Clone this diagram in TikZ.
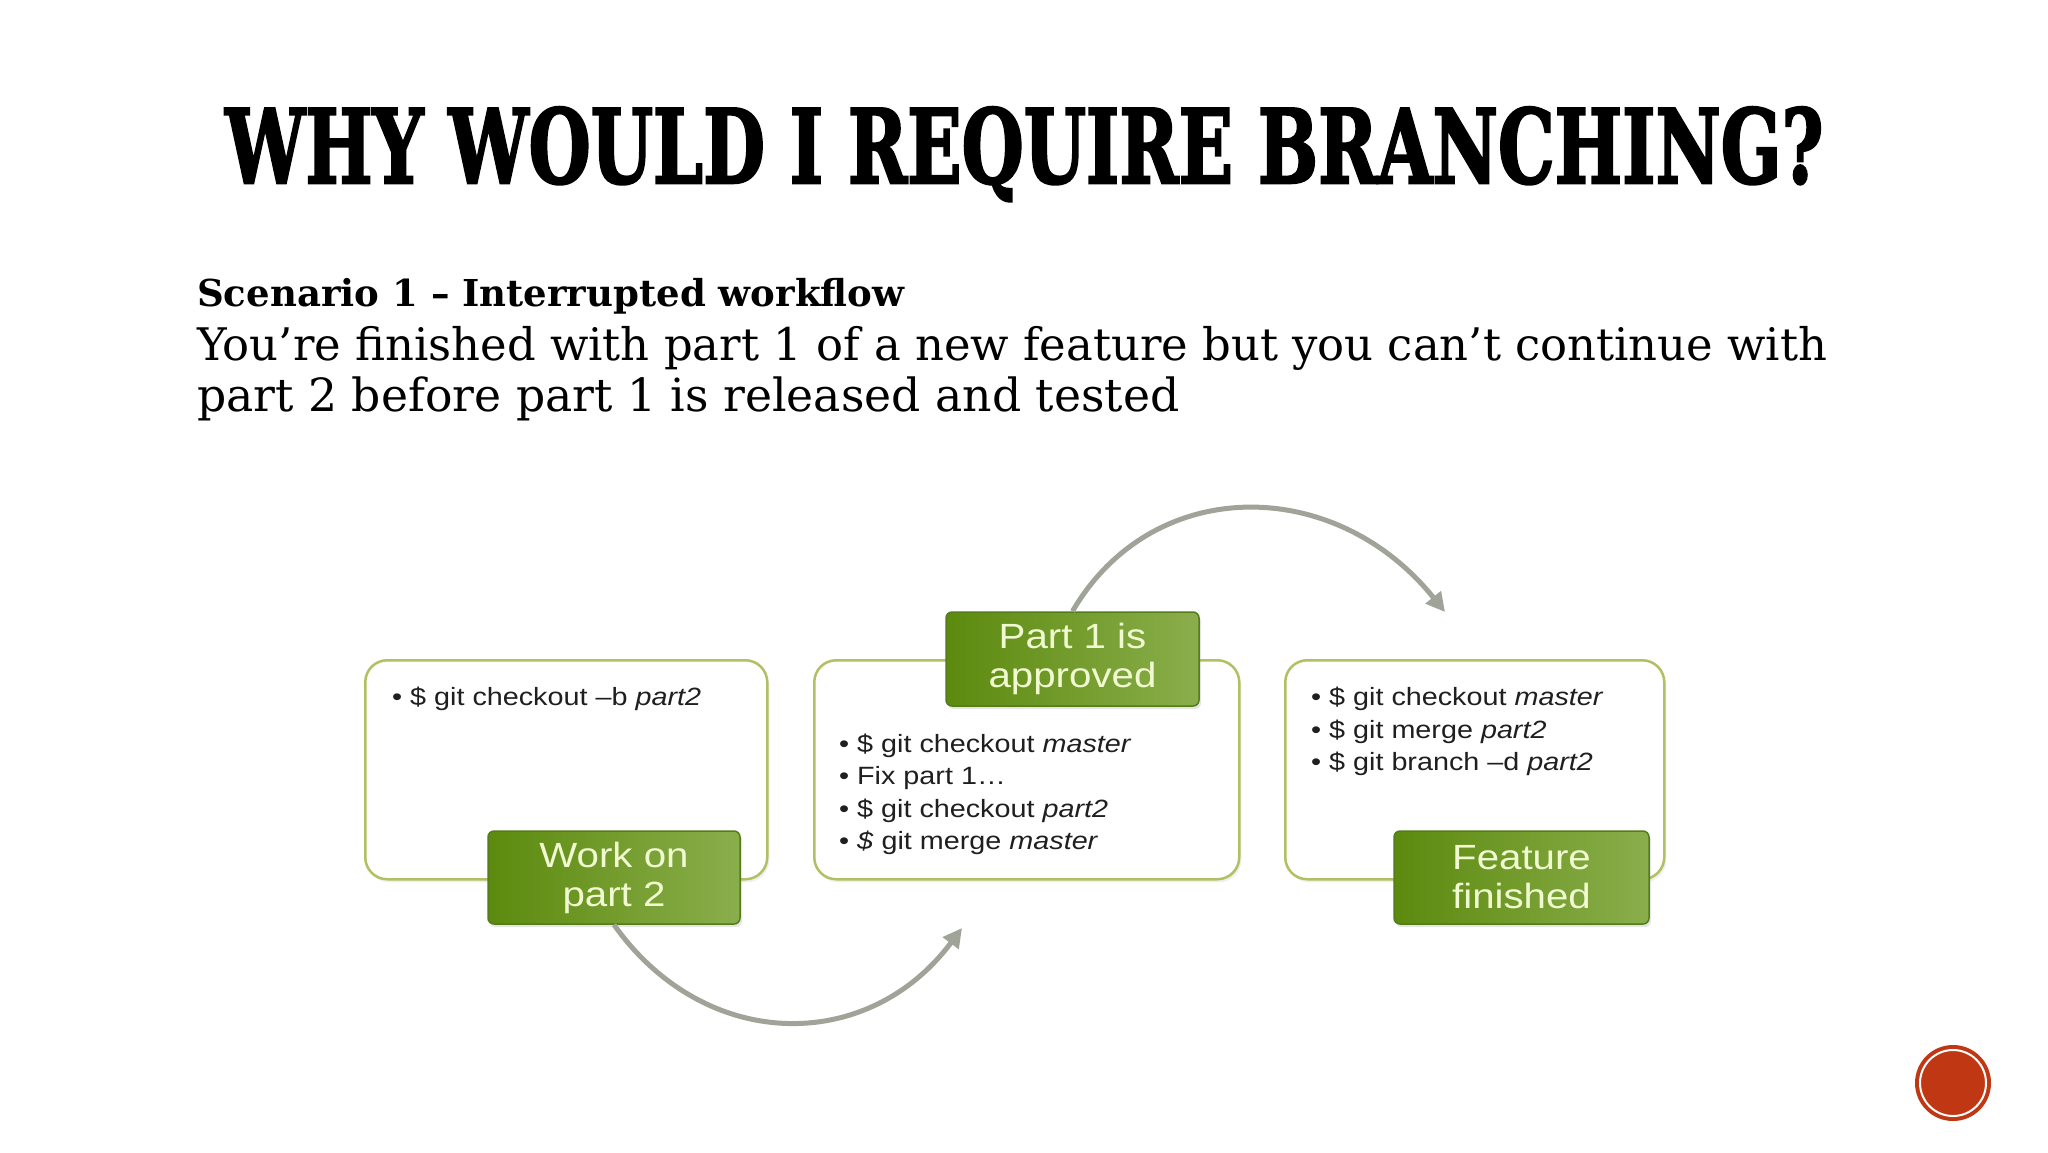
\documentclass[tikz,border=0pt]{standalone}
\usepackage{fontspec}
\usepackage{graphicx}
\setmainfont{DejaVu Serif}
\newfontfamily\boxfont{Liberation Sans}[FakeStretch=1.15]
\newfontfamily\titlefont{DejaVu Serif}[FakeBold=2.5]
\usetikzlibrary{arrows.meta,shadows}
\definecolor{boxline}{RGB}{178,192,98}
\definecolor{gdark}{RGB}{92,138,14}
\definecolor{glight}{RGB}{138,174,76}
\definecolor{gborder}{RGB}{84,124,24}
\definecolor{gtext}{RGB}{240,249,208}
\definecolor{arrowgray}{RGB}{160,163,152}
\definecolor{redbtn}{RGB}{192,55,20}
\tikzset{
  outerbox/.style={draw=boxline, line width=2.5pt, rounded corners=22pt, fill=white, anchor=north west, inner sep=0pt,
     drop shadow={opacity=0.12, shadow xshift=2pt, shadow yshift=-3pt}},
  greenbox/.style={draw=gborder, line width=1.5pt, rounded corners=6pt, left color=gdark, right color=glight,
     text=gtext, font=\boxfont\fontsize{35}{39}\selectfont, align=center, inner sep=0pt,
     drop shadow={opacity=0.2, shadow xshift=2pt, shadow yshift=-3pt}},
  itemtext/.style={anchor=base west, inner sep=0pt, font=\boxfont\fontsize{25}{30}\selectfont, text=black!88},
  bodytext/.style={anchor=base west, inner sep=0pt},
  flowarrow/.style={draw=arrowgray, line width=5pt, -{Triangle[length=19pt,width=19pt]}}
}
\newcommand{\bul}{\makebox[15pt][l]{\hspace{-3pt}•}}
\begin{document}
\begin{tikzpicture}[x=1pt,y=-1pt]
\useasboundingbox[fill=white] (0,0) rectangle (2048,1152);
% title
\node[bodytext] (title) at (225,183) {\resizebox{1598pt}{76pt}{\titlefont\bfseries WHY WOULD I REQUIRE BRANCHING?}};
% body text
\node[bodytext] (scen) at (197,306) {\resizebox{707pt}{!}{\bfseries Scenario 1 – Interrupted workflow}};
\node[bodytext] (line2) at (197,360) {\resizebox{1630pt}{!}{You’re finished with part 1 of a new feature but you can’t continue with}};
\node[bodytext] (line3) at (197,411) {\resizebox{982pt}{!}{part 2 before part 1 is released and tested}};
% outer boxes
\node[outerbox, minimum width=402pt, minimum height=219pt] (box1) at (364,659) {};
\node[outerbox, minimum width=425pt, minimum height=219pt] (box2) at (813,659) {};
\node[outerbox, minimum width=379pt, minimum height=219pt] (box3) at (1284,659) {};
% green labels
\node[greenbox, minimum width=252pt, minimum height=93pt] (green1) at (614,877.5) {Work on\\part 2};
\node[greenbox, minimum width=253pt, minimum height=94pt] (green2) at (1072.5,659) {Part 1 is\\approved};
\node[greenbox, minimum width=255pt, minimum height=93pt] (green3) at (1521.5,877.5) {Feature\\finished};
% items
\node[itemtext] (b1a) at (395,705) {\bul\$ git checkout –b \textit{part2}};
\node[itemtext] (b2a) at (842,752) {\bul\$ git checkout \textit{master}};
\node[itemtext] (b2b) at (842,784) {\bul Fix part 1…};
\node[itemtext] (b2c) at (842,817) {\bul\$ git checkout \textit{part2}};
\node[itemtext] (b2d) at (842,849) {\bul\textit{\$} git merge \textit{master}};
\node[itemtext] (b3a) at (1314,705) {\bul\$ git checkout \textit{master}};
\node[itemtext] (b3b) at (1314,738) {\bul\$ git merge \textit{part2}};
\node[itemtext] (b3c) at (1314,770) {\bul\$ git branch –d \textit{part2}};
% arrows
\coordinate (tip1) at (962,928);
\coordinate (tip2) at (1445,612);
\draw[flowarrow] (green1.south) .. controls +(90,127) and +(-95,127) .. (tip1);
\draw[flowarrow] (green2.north) .. controls +(80,-137) and +(-110,-137) .. (tip2);
% red button
\fill[redbtn] (1953,1083) circle (38pt);
\draw[white, line width=2pt] (1953,1083) circle (33pt);
\end{tikzpicture}
\end{document}
